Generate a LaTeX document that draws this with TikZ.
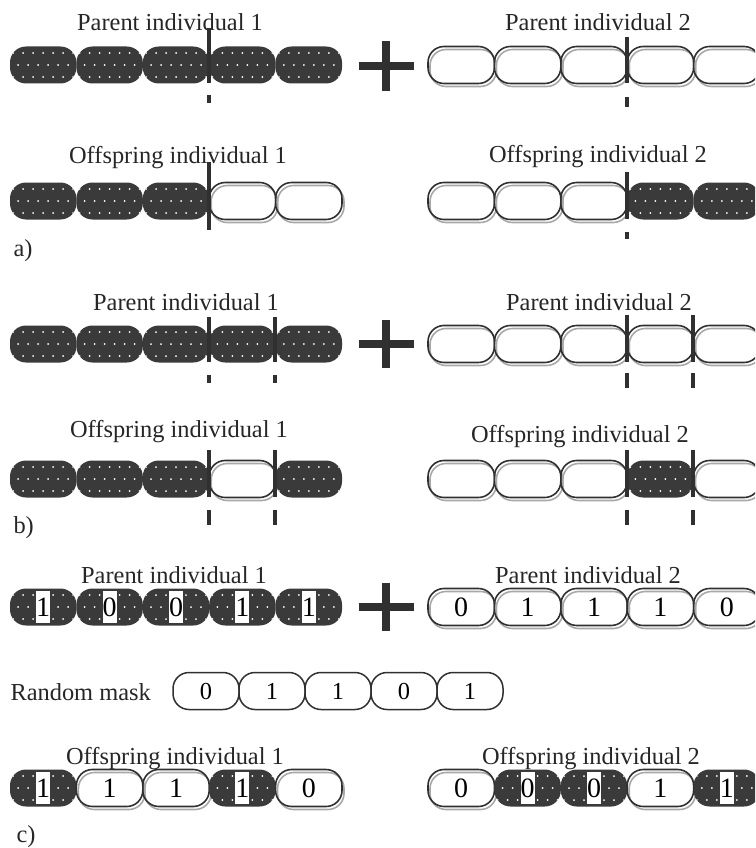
\documentclass[tikz,border=0pt]{standalone}
\usepackage{fontspec}
\setmainfont{Liberation Serif}
\usepackage{xcolor}
\usepackage{tikz}

\definecolor{chromdark}{HTML}{3A3A3A}
\definecolor{chromline}{HTML}{303030}
\definecolor{chromshade}{HTML}{A8A8A8}

\newcommand{\labelfont}{\fontsize{24.4}{29}\selectfont}
\newcommand{\genefont}{\fontsize{28}{30}\selectfont}
\newcommand{\maskfont}{\fontsize{24.4}{29}\selectfont}

\tikzset{
  gene/.style={rectangle, rounded corners=16pt, minimum width=66.4pt,
    minimum height=37pt, inner sep=0pt},
  dark gene/.style={gene, fill=chromdark, path picture={
      \foreach \r/\o in {-12/0, 0/5, 12/0}
        \foreach \c in {-4,...,3}
          \fill[white] ([shift={(\c*10pt+\o*1pt, \r*1pt)}]path picture bounding box.center) circle (1pt);
    }},
  light gene/.style={gene, draw=chromline, line width=1.6pt,
    preaction={draw=chromshade, line width=1.6pt, transform canvas={shift={(2pt,-3pt)}}}},
  mask gene/.style={gene, minimum width=66pt, draw=chromline, line width=1.5pt, font=\maskfont},
  dark bit/.style={fill=white, inner sep=0pt, minimum width=12pt, minimum height=32pt, font=\genefont},
  light bit/.style={inner sep=0pt, font=\genefont},
  caption/.style={font=\labelfont, anchor=base, text=black!85},
  cut/.style={draw=chromline, line width=3.5pt},
  cross/.style={draw=chromline, line width=8pt}
}

% one chromosome: name, left edge, row, list of gene kinds
\newcommand{\chromosome}[4]{%
  \foreach \kind [count=\n] in {#4}
    \node[\kind\space gene] (#1-\n) at ({#2+33.2+66.4*(\n-1)}, #3) {};
}
% same, with a bit written on every gene (kind/bit)
\newcommand{\bitchromosome}[4]{%
  \foreach \kind/\bit [count=\n] in {#4} {
    \node[\kind\space gene] (#1-\n) at ({#2+33.2+66.4*(\n-1)}, #3) {};
    \node[\kind\space bit] (#1-\n-bit) at (#1-\n.center) {\bit};
  }
}

\begin{document}
\begin{tikzpicture}[x=1pt, y=-1pt]
    \clip (0,0) rectangle (755,848);

    % ---- a) one-point crossover
    \node[caption] (pa1-lbl) at (170,31) {Parent individual 1};
    \node[caption] (pa2-lbl) at (598,31) {Parent individual 2};
    \chromosome{pa1}{10}{65}{dark,dark,dark,dark,dark}
    \chromosome{pa2}{428}{65}{light,light,light,light,light}
    \draw[cross] (358.5,66) -- (413.5,66) (386,41) -- (386,91);
    \draw[cut] (209,28) -- (209,83) (209,95) -- (209,103);
    \draw[cut] (627,37) -- (627,83) (627,97) -- (627,107);

    \node[caption] (oa1-lbl) at (178,163) {Offspring individual 1};
    \node[caption] (oa2-lbl) at (598,162) {Offspring individual 2};
    \chromosome{oa1}{10}{201}{dark,dark,dark,light,light}
    \chromosome{oa2}{428}{201}{light,light,light,dark,dark}
    \draw[cut] (209,162) -- (209,230);
    \draw[cut] (627,172) -- (627,219) (627,232) -- (627,239);

    \node[caption, anchor=base west] (a-tag) at (10,256) {a)};

    % ---- b) two-point crossover
    \node[caption] (pb1-lbl) at (186,310) {Parent individual 1};
    \node[caption] (pb2-lbl) at (599,310) {Parent individual 2};
    \chromosome{pb1}{10}{344}{dark,dark,dark,dark,dark}
    \chromosome{pb2}{428}{344}{light,light,light,light,light}
    \draw[cross] (358.5,344) -- (413.5,344) (386,320) -- (386,368);
    \foreach \x in {209,275}
      \draw[cut] (\x,317) -- (\x,362) (\x,375) -- (\x,383);
    \foreach \x in {627,693}
      \draw[cut] (\x,315) -- (\x,362) (\x,373) -- (\x,388);

    \node[caption] (ob1-lbl) at (179,437) {Offspring individual 1};
    \node[caption] (ob2-lbl) at (580,442) {Offspring individual 2};
    \chromosome{ob1}{10}{479}{dark,dark,dark,light,dark}
    \chromosome{ob2}{428}{479}{light,light,light,dark,light}
    \foreach \x in {209,275,627,693}
      \draw[cut] (\x,450) -- (\x,497) (\x,510) -- (\x,525);

    \node[caption, anchor=base west] (b-tag) at (10,533) {b)};

    % ---- c) uniform crossover
    \node[caption] (pc1-lbl) at (174,583) {Parent individual 1};
    \node[caption] (pc2-lbl) at (588,583) {Parent individual 2};
    \bitchromosome{pc1}{10}{607}{dark/1,dark/0,dark/0,dark/1,dark/1}
    \bitchromosome{pc2}{428}{607}{light/0,light/1,light/1,light/1,light/0}
    \draw[cross] (358.5,607) -- (413.5,607) (386,583) -- (386,631);

    \node[caption, anchor=base west] (mask-lbl) at (7,700) {Random mask};
    \foreach \bit [count=\n] in {0,1,1,0,1}
      \node[mask gene] (mask-\n) at ({173+33+66*(\n-1)}, 691) {\bit};

    \node[caption] (oc1-lbl) at (175,764) {Offspring individual 1};
    \node[caption] (oc2-lbl) at (591,764) {Offspring individual 2};
    \bitchromosome{oc1}{10}{788}{dark/1,light/1,light/1,dark/1,light/0}
    \bitchromosome{oc2}{428}{788}{light/0,dark/0,dark/0,light/1,dark/1}

    \node[caption, anchor=base west] (c-tag) at (13,842) {c)};
\end{tikzpicture}
\end{document}
